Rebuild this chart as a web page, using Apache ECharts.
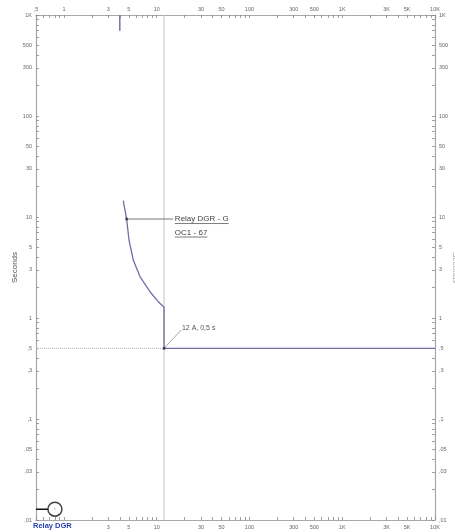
<!DOCTYPE html>
<html><head><meta charset="utf-8">
<script src="https://cdn.jsdelivr.net/npm/echarts@6/dist/echarts.min.js"></script>
<style>html,body{margin:0;padding:0;background:#fff}#c{width:455px;height:532px}</style>
</head><body><div id="c"></div>
<script>
// ---- tick labels ----
const xTickValues = [0.5,1,3,5,10,30,50,100,300,500,1000,3000,5000,10000];
const xTopLabels = [',5','1','3','5','10','30','50','100','300','500','1K','3K','5K','10K'];
const xBottomLabels = ['','','3','5','10','30','50','100','300','500','1K','3K','5K','10K'];
const yTickValues = [0.01,0.03,0.05,0.1,0.3,0.5,1,3,5,10,30,50,100,300,500,1000];
const yTickLabels = [',01',',03',',05',',1',',3',',5','1','3','5','10','30','50','100','300','500','1K'];

// ---- relay curve (amps, seconds) ----
const curveAmps = [4.36, 4.74, 5.03, 5.59, 6.60, 8.46, 10.4, 12, 12, 10000];
const curveSecs = [14.5, 9.55, 5.92, 3.75, 2.57, 1.82, 1.45, 1.28, 0.5, 0.5];
// short segment at top (instantaneous)
const topAmps = [4, 4];
const topSecs = [1000, 700];
// pickup reference lines
const pickupAmps = 12;
const pickupSecs = 0.5;
// annotation points
const markAmps = [4.74, 12];
const markSecs = [9.55, 0.5];
const curveLabelAmps = 15.7;
const pickupLabelAmps = 18.7;
const pickupLabelSecs = 0.8;
// legend symbol (bottom-left)
const legendAmps = [0.5, 0.8];
const legendSecs = [0.0128, 0.0128];

function minorTicks(lo, hi) {
  const out = [];
  for (let e = -3; e <= 5; e++) for (let m = 1; m <= 9; m++) {
    const v = +(m * Math.pow(10, e)).toPrecision(6);
    if (v >= lo - 1e-12 && v <= hi + 1e-12) out.push(v);
  }
  return out;
}
function lookup(vals, labels) {
  return function (v) {
    let best = 0, bd = Infinity;
    for (let i = 0; i < vals.length; i++) {
      const d = Math.abs(Math.log10(v) - Math.log10(vals[i]));
      if (d < bd) { bd = d; best = i; }
    }
    return bd < 0.01 ? labels[best] : '';
  };
}
const FONT = 'Liberation Sans, Arial, sans-serif';
const AX = '#a8a8a8';
const LBL = '#666';
function xAx(pos, labels) {
  return {
    type: 'log', logBase: 10, min: 0.5, max: 10000, position: pos,
    axisLine: { show: true, lineStyle: { color: AX, width: 1.2 } },
    axisTick: { show: true, inside: true, length: 3, lineStyle: { color: '#888', width: 0.8 }, customValues: minorTicks(0.5, 10000) },
    minorTick: { show: false }, splitLine: { show: false },
    axisLabel: { show: true, customValues: xTickValues, formatter: lookup(xTickValues, labels), fontSize: 5.5, color: LBL, fontFamily: FONT, margin: pos === 'top' ? 3 : 4 }
  };
}
function yAx(pos) {
  return {
    type: 'log', logBase: 10, min: 0.01, max: 1000, position: pos,
    name: 'Seconds', nameLocation: 'middle', nameGap: pos === 'left' ? 17 : 16,
    nameMoveOverlap: false,
    nameRotate: pos === 'left' ? 90 : -90,
    nameTextStyle: { fontSize: 8, color: pos === 'left' ? '#555' : '#aaa', fontFamily: FONT },
    axisLine: { show: true, lineStyle: { color: AX, width: 1.2 } },
    axisTick: { show: true, inside: true, length: 3, lineStyle: { color: '#888', width: 0.8 }, customValues: minorTicks(0.01, 1000) },
    minorTick: { show: false }, splitLine: { show: false },
    axisLabel: { show: true, customValues: yTickValues, formatter: lookup(yTickValues, yTickLabels), fontSize: 5.5, color: LBL, fontFamily: FONT, margin: 4 }
  };
}
const chart = echarts.init(document.getElementById('c'), null, { renderer: 'canvas' });
const zip = (a, b) => a.map((v, i) => [v, b[i]]);
const BLUE = '#6e6ea8';
chart.setOption({
  animation: false,
  grid: { left: 36, right: 20, top: 15, bottom: 12, containLabel: false, outerBoundsMode: 'none' },
  xAxis: [xAx('bottom', xBottomLabels), xAx('top', xTopLabels)],
  yAxis: [yAx('left'), yAx('right')],
  series: [
    { type: 'line', data: [[pickupAmps, 0.01], [pickupAmps, 1000]], symbol: 'none', lineStyle: { color: '#c4c4c4', width: 1 }, z: 1 },
    { type: 'line', data: [[0.5, pickupSecs], [pickupAmps, pickupSecs]], symbol: 'none', lineStyle: { color: '#b8b8b8', width: 1, type: 'dotted' }, z: 1 },
    { type: 'line', data: zip(curveAmps, curveSecs), symbol: 'none', smooth: false, lineStyle: { color: BLUE, width: 1.3 }, z: 3 },
    { type: 'line', data: zip(topAmps, topSecs), symbol: 'none', lineStyle: { color: '#7a7ab0', width: 1.6 }, z: 3 },
    { type: 'line', data: [[markAmps[0], markSecs[0]], [curveLabelAmps * 0.96, markSecs[0]]], symbol: 'none', lineStyle: { color: '#555', width: 0.8 }, z: 2 },
    { type: 'line', data: [[markAmps[1], markSecs[1]], [pickupLabelAmps * 0.98, pickupLabelSecs * 0.95]], symbol: 'none', lineStyle: { color: '#777', width: 0.7 }, z: 2 },
    { type: 'scatter', data: zip(markAmps, markSecs), symbol: 'rect', symbolSize: 2.5, itemStyle: { color: '#222' }, z: 4 },
    { type: 'line', data: [[legendAmps[0], legendSecs[0]], [0.675, legendSecs[0]]], symbol: 'none', lineStyle: { color: '#111', width: 1.5 }, z: 4 },
    { type: 'scatter', data: [[legendAmps[1], legendSecs[1]]], symbol: 'circle', symbolSize: 14, itemStyle: { color: '#fff', borderColor: '#111', borderWidth: 1.5 }, z: 5,
      label: { show: true, position: 'inside', formatter: '1', fontSize: 4, color: '#999' } }
  ]
});
// annotation texts with underline
const ctx = document.createElement('canvas').getContext('2d');
function tw(t, size) { ctx.font = size + 'px ' + FONT; return ctx.measureText(t).width; }
const g = [];
const p1 = chart.convertToPixel({ xAxisIndex: 0, yAxisIndex: 0 }, [curveLabelAmps, markSecs[0]]);
const lines1 = ['Relay DGR - G', 'OC1 - 67'];
lines1.forEach((t, i) => {
  const y = p1[1] + i * 13.5;
  g.push({ type: 'text', x: p1[0], y: y, style: { text: t, font: '8px ' + FONT, fill: '#444', verticalAlign: 'middle' } });
  g.push({ type: 'line', shape: { x1: p1[0], y1: y + 4.5, x2: p1[0] + tw(t, 8), y2: y + 4.5 }, style: { stroke: '#444', lineWidth: 0.7 } });
});
const p2 = chart.convertToPixel({ xAxisIndex: 0, yAxisIndex: 0 }, [pickupLabelAmps, pickupLabelSecs]);
g.push({ type: 'text', x: p2[0], y: p2[1], style: { text: '12 A, 0,5 s', font: '7px ' + FONT, fill: '#555', verticalAlign: 'middle' } });
g.push({ type: 'text', x: 33, y: 526, style: { text: 'Relay DGR', font: 'bold 7.5px ' + FONT, fill: '#2440b4', verticalAlign: 'middle' } });
chart.setOption({ graphic: g });
</script>
</body></html>
